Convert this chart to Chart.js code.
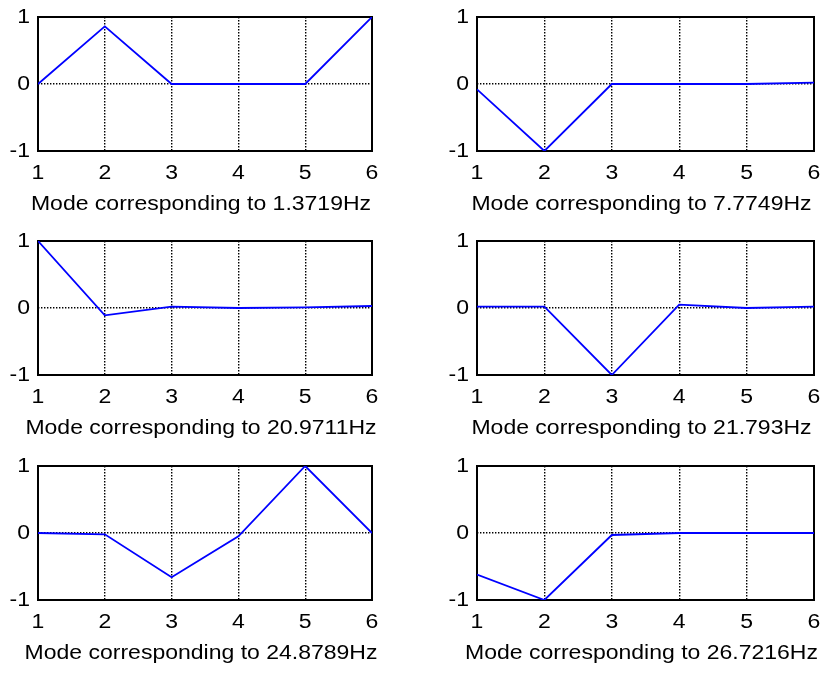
<!DOCTYPE html>
<html>
<head>
<meta charset="utf-8">
<script src="https://cdn.jsdelivr.net/npm/chart.js@4.4.0/dist/chart.umd.min.js"></script>
<style>
  body { margin: 0; background: #fff; }
  #page { position: relative; width: 825px; height: 677px; overflow: hidden; }
  #page canvas { position: absolute; }
</style>
</head>
<body>
<div id="page"></div>
<script>
// node numbers along the beam and tick labels
const nodes = [1, 2, 3, 4, 5, 6];
const xTicks = ['1', '2', '3', '4', '5', '6'];
const yTicks = ['-1', '0', '1'];

// natural frequencies (Hz) and normalised mode shapes
const frequencies = ['1.3719', '7.7749', '20.9711', '21.793', '24.8789', '26.7216'];
const mode1 = [0, 0.86, 0, 0, 0, 1];
const mode2 = [-0.08, -1, 0, 0, 0, 0.02];
const mode3 = [1, -0.11, 0.02, 0, 0.01, 0.03];
const mode4 = [0.02, 0.02, -1, 0.05, 0, 0.02];
const mode5 = [0, -0.02, -0.66, -0.05, 1, 0];
const mode6 = [-0.62, -1, -0.03, 0, 0, 0];
const modes = [mode1, mode2, mode3, mode4, mode5, mode6];

const FONT = '20px "Liberation Sans", Arial, Helvetica, sans-serif';
const STRETCH = 1.15;

// box around the plot area, drawn under the curve
// tick labels + caption drawn with a slight horizontal stretch
const frameAndLabels = {
    id: 'frameAndLabels',
    beforeDatasetsDraw(chart) {
        const { ctx, chartArea: a } = chart;
        ctx.save();
        ctx.strokeStyle = '#000';
        ctx.lineWidth = 2;
        ctx.strokeRect(a.left, a.top, a.width, a.height);
        ctx.restore();
    },
    afterDraw(chart, args, opts) {
        const { ctx, chartArea: a } = chart;
        const x = chart.scales.x, y = chart.scales.y;
        const put = (txt, px, py, align) => {
            ctx.save();
            ctx.translate(px, py);
            ctx.scale(STRETCH, 1);
            ctx.font = FONT;
            ctx.fillStyle = '#000';
            ctx.textAlign = align;
            ctx.textBaseline = 'middle';
            ctx.fillText(txt, 0, 0);
            ctx.restore();
        };
        yTicks.forEach(t => put(t, a.left - 8, y.getPixelForValue(Number(t)), 'right'));
        xTicks.forEach(t => put(t, x.getPixelForValue(Number(t)), a.bottom + 22, 'center'));
        put(opts.caption, (a.left + a.right) / 2 - 4, a.bottom + 53, 'center');
    }
};

// canvas placement for the 3x2 grid of subplots
const cols = [
    { left: 0, width: 412, padLeft: 38, padRight: 40 },
    { left: 412, width: 413, padLeft: 65, padRight: 11 }
];
const rowTops = [0, 224, 449];
const CELL_H = 224;

const page = document.getElementById('page');

modes.forEach((mode, i) => {
    const col = cols[i % 2];
    const canvas = document.createElement('canvas');
    canvas.width = col.width;
    canvas.height = CELL_H;
    canvas.style.left = col.left + 'px';
    canvas.style.top = rowTops[Math.floor(i / 2)] + 'px';
    page.appendChild(canvas);

    // dotted black grid
    const gridOpts = { color: '#000', lineWidth: 1.4, drawTicks: false };
    const borderOpts = { display: false, dash: [1.4, 1.6] };

    new Chart(canvas, {
        type: 'line',
        data: {
            datasets: [{
                data: nodes.map((n, k) => ({ x: n, y: mode[k] })),
                borderColor: '#0000ff',
                borderWidth: 1.8,
                pointRadius: 0,
                tension: 0,
                fill: false
            }]
        },
        options: {
            responsive: false,
            animation: false,
            events: [],
            layout: { padding: { left: col.padLeft, right: col.padRight, top: 17, bottom: 73 } },
            plugins: {
                legend: { display: false },
                tooltip: { enabled: false },
                frameAndLabels: { caption: 'Mode corresponding to ' + frequencies[i] + 'Hz' }
            },
            scales: {
                x: {
                    type: 'linear',
                    min: 1,
                    max: 6,
                    ticks: { stepSize: 1, display: false },
                    grid: gridOpts,
                    border: borderOpts,
                    afterFit: s => { s.height = 0; }
                },
                y: {
                    min: -1,
                    max: 1,
                    ticks: { stepSize: 1, display: false },
                    grid: gridOpts,
                    border: borderOpts,
                    afterFit: s => { s.width = 0; }
                }
            }
        },
        plugins: [frameAndLabels]
    });
});
</script>
</body>
</html>
